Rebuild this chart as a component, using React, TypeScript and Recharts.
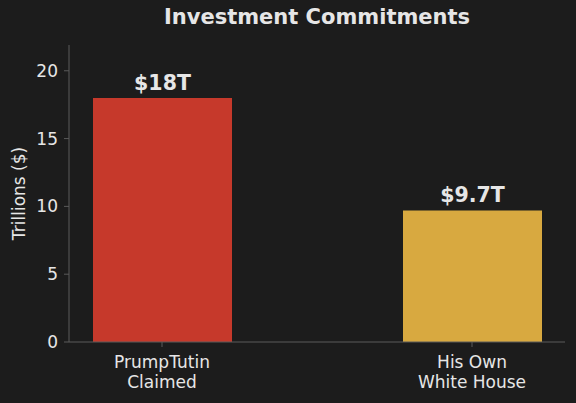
import { BarChart, Bar, XAxis, YAxis, Cell, LabelList, Label } from "recharts";

const categories = ["PrumpTutin\nClaimed", "His Own\nWhite House"];
const values = [18, 9.7];
const valueLabels = ["$18T", "$9.7T"];
const barColors = ["#c6392b", "#d8a940"];
const yTicks = [0, 5, 10, 15, 20];

const data = categories.map((name, i) => ({
  x: i,
  name,
  value: values[i],
  label: valueLabels[i],
}));

const BG = "#1c1c1c";
const TEXT = "#e6e6e6";
const AXIS = "#5a5a5a";
const FONT = "'DejaVu Sans', sans-serif";

function CategoryTick(props: any) {
  const { x, y, payload } = props;
  const lines = categories[payload.value]?.split("\n") ?? [];
  return (
    <g transform={`translate(${x},${y})`}>
      {lines.map((line, i) => (
        <text
          key={i}
          x={0}
          y={i * 20}
          dy={19}
          textAnchor="middle"
          fill={TEXT}
          fontSize={17}
          fontFamily={FONT}
        >
          {line}
        </text>
      ))}
    </g>
  );
}

export default function App() {
  return (
    <div
      style={{
        position: "fixed",
        left: 0,
        top: 0,
        width: 576,
        height: 403,
        background: BG,
        fontFamily: FONT,
      }}
    >
      <div
        style={{
          position: "absolute",
          left: 69,
          width: 496,
          top: 5,
          textAlign: "center",
          color: TEXT,
          fontWeight: "bold",
          fontSize: 21,
        }}
      >
        Investment Commitments
      </div>
      <BarChart
        width={576}
        height={403}
        data={data}
        margin={{ top: 45, right: 11, left: 0, bottom: 11 }}
      >
        <XAxis
          dataKey="x"
          type="number"
          domain={[-0.3, 1.3]}
          ticks={[0, 1]}
          height={50}
          stroke={AXIS}
          tickSize={5}
          tickMargin={2}
          tick={<CategoryTick />}
          allowDataOverflow
        />
        <YAxis
          type="number"
          domain={[0, 21.9]}
          ticks={yTicks}
          width={69}
          stroke={AXIS}
          tickSize={5}
          tickMargin={6}
          tick={{ fill: TEXT, fontSize: 17, fontFamily: FONT }}
          allowDataOverflow
        >
          <Label
            value="Trillions ($)"
            angle={-90}
            position="insideLeft"
            offset={19}
            style={{ fill: TEXT, fontSize: 17, fontFamily: FONT, textAnchor: "middle" }}
          />
        </YAxis>
        <Bar dataKey="value" barSize={139} isAnimationActive={false}>
          {data.map((d, i) => (
            <Cell key={d.name} fill={barColors[i]} />
          ))}
          <LabelList
            dataKey="label"
            position="top"
            offset={8}
            fill={TEXT}
            fontSize={20.5}
            fontWeight="bold"
            fontFamily={FONT}
          />
        </Bar>
      </BarChart>
    </div>
  );
}
